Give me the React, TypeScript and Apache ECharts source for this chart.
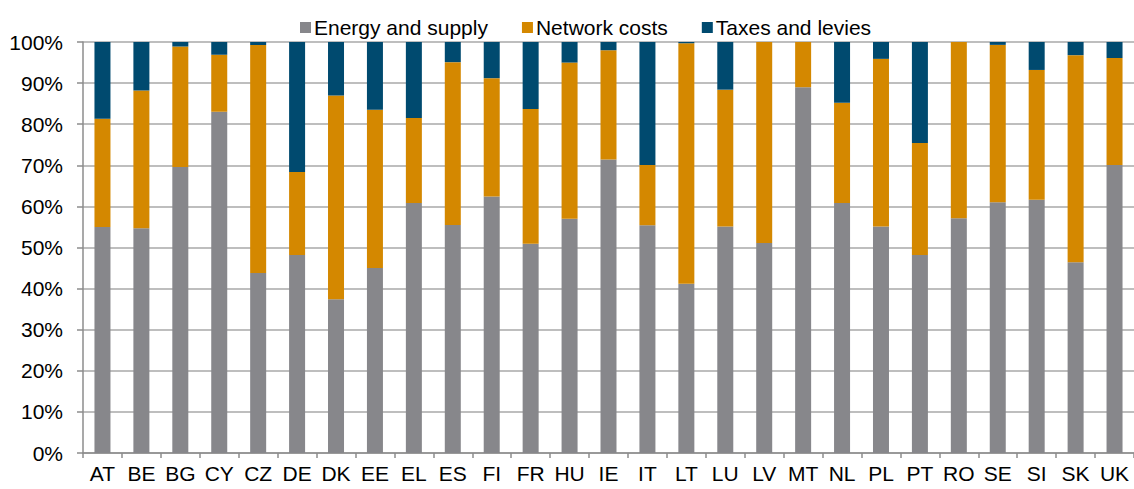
import React, { useEffect, useRef } from "react";
import * as echarts from "echarts";

const categories = ["AT","BE","BG","CY","CZ","DE","DK","EE","EL","ES","FI","FR","HU","IE","IT","LT","LU","LV","MT","NL","PL","PT","RO","SE","SI","SK","UK"];
const energySupply = [55.0,54.7,69.6,83.0,43.8,48.2,37.4,45.0,60.8,55.5,62.4,50.9,57.0,71.4,55.4,41.2,55.1,51.1,89.0,60.8,55.1,48.2,57.1,61.0,61.6,46.4,70.1];
const networkCosts = [26.3,33.5,29.3,13.9,55.5,20.2,49.6,38.5,20.7,39.6,28.8,32.8,38.0,26.6,14.7,58.5,33.3,48.9,11.0,24.4,40.8,27.2,42.9,38.3,31.6,50.4,26.0];
const taxesLevies = [18.7,11.8,1.1,3.1,0.7,31.6,13.0,16.5,18.5,4.9,8.8,16.3,5.0,2.0,29.9,0.3,11.6,0.0,0.0,14.8,4.1,24.6,0.0,0.7,6.8,3.2,3.9];
const seriesNames = ["Energy and supply","Network costs","Taxes and levies"];
const colors = ["#87878B","#D48800","#004A6F"];

const FONT = "'Liberation Sans', Arial, sans-serif";

export default function App() {
  const ref = useRef<HTMLDivElement>(null);
  useEffect(() => {
    if (!ref.current) return;
    const chart = echarts.init(ref.current, null, { renderer: "svg" });
    const data = [energySupply, networkCosts, taxesLevies];
    chart.setOption({
      animation: false,
      color: colors,
      textStyle: { fontFamily: FONT },
      legend: {
        left: 295,
        top: 12,
        icon: "rect",
        itemWidth: 11,
        itemHeight: 11,
        itemGap: 34,
        textStyle: { fontFamily: FONT, fontSize: 21, color: "#000", padding: [0, 0, 0, -2] },
        data: seriesNames,
      },
      grid: { left: 83, top: 42, width: 1053, height: 411, containLabel: false },
      xAxis: {
        type: "category",
        data: categories,
        boundaryGap: true,
        axisLine: { show: true, lineStyle: { color: "#8C8C8C", width: 1.5 } },
        axisTick: { show: true, length: 5, alignWithLabel: false, lineStyle: { color: "#8C8C8C", width: 1.5 } },
        axisLabel: { interval: 0, fontFamily: FONT, fontSize: 21, color: "#000", margin: 10 },
        splitLine: { show: false },
      },
      yAxis: {
        type: "value",
        min: 0,
        max: 100,
        interval: 10,
        axisLine: { show: true, lineStyle: { color: "#8C8C8C", width: 1.5 } },
        axisTick: { show: true, length: 6, lineStyle: { color: "#8C8C8C", width: 1.5 } },
        axisLabel: { formatter: "{value}%", fontFamily: FONT, fontSize: 21, color: "#000", margin: 20 },
        splitLine: { show: true, lineStyle: { color: "#A8A8A8", width: 1.5 } },
      },
      series: seriesNames.map((name, i) => ({
        name,
        type: "bar",
        stack: "total",
        barWidth: 16,
        data: data[i],
        itemStyle: { color: colors[i] },
      })),
    });
    return () => chart.dispose();
  }, []);
  return <div ref={ref} style={{ position: "absolute", left: 0, top: 0, width: 1134, height: 489 }} />;
}
